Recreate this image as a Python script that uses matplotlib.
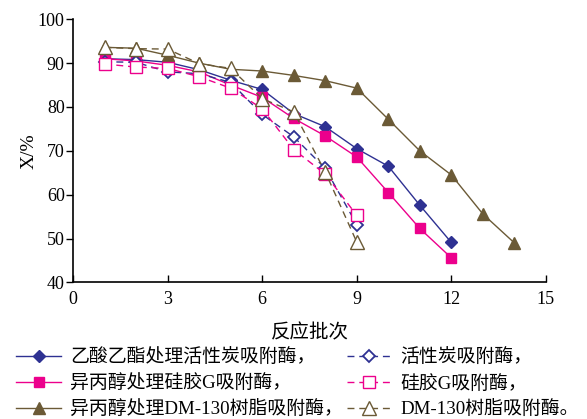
import matplotlib
matplotlib.use("Agg")
import matplotlib.pyplot as plt

plt.rcParams['font.family'] = ['Liberation Serif', 'Noto Sans CJK SC']
plt.rcParams['axes.unicode_minus'] = False

# data
x_long = list(range(1, 13))
x_dm = list(range(1, 15))
x_short = list(range(1, 10))

ea_carbon = [91.0, 90.8, 90.2, 88.5, 86.1, 84.0, 78.5, 75.5, 70.5, 66.5, 57.6, 49.1]
ipa_silica = [91.0, 90.5, 89.5, 88.0, 85.0, 82.2, 77.4, 73.4, 68.6, 60.5, 52.3, 45.6]
ipa_dm130 = [93.6, 93.4, 91.8, 90.0, 88.6, 88.2, 87.2, 86.0, 84.3, 77.2, 70.0, 64.5, 55.6, 49.0]
carbon = [90.3, 90.2, 88.0, 87.6, 85.6, 78.3, 73.2, 66.0, 53.2]
silica = [89.8, 89.1, 88.8, 86.9, 84.3, 79.6, 70.3, 64.7, 55.3]
dm130 = [93.6, 93.3, 93.2, 89.9, 88.8, 81.9, 78.9, 65.2, 49.2]

labels = [
    "乙酸乙酯处理活性炭吸附酶，",
    "异丙醇处理硅胶G吸附酶，",
    "异丙醇处理DM-130树脂吸附酶，",
    "活性炭吸附酶，",
    "硅胶G吸附酶，",
    "DM-130树脂吸附酶。",
]

blue = "#2E3192"
pink = "#EC008C"
brown = "#6B5A36"
dash = (0, (5, 3.5))

fig = plt.figure(figsize=(5.87, 4.19), dpi=100)
ax = fig.add_axes([0.1244, 0.326, 0.8056, 0.628])

h1, = ax.plot(x_long, ea_carbon, color=blue, lw=1.0, marker="D", ms=6,
              mfc=blue, mec=blue, label=labels[0])
h2, = ax.plot(x_long, ipa_silica, color=pink, lw=1.0, marker="s", ms=7,
              mfc=pink, mec=pink, label=labels[1])
h3, = ax.plot(x_dm, ipa_dm130, color=brown, lw=1.0, marker="^", ms=8.5,
              mfc=brown, mec=brown, label=labels[2])
h4, = ax.plot(x_short, carbon, color=blue, lw=1.0, ls=dash, marker="D", ms=6.5,
              mfc="white", mec=blue, mew=1.3, label=labels[3])
h5, = ax.plot(x_short, silica, color=pink, lw=1.0, ls=dash, marker="s", ms=8,
              mfc="white", mec=pink, mew=1.0, label=labels[4])
h6, = ax.plot(x_short, dm130, color=brown, lw=1.0, ls=dash, marker="^", ms=10,
              mfc="white", mec=brown, mew=1.0, label=labels[5])

ax.set_xlim(0, 15)
ax.set_ylim(40, 100)
ax.set_xticks([0, 3, 6, 9, 12, 15])
ax.set_yticks([40, 50, 60, 70, 80, 90, 100])
ax.spines['top'].set_visible(False)
ax.spines['right'].set_visible(False)
for s in ax.spines.values():
    s.set_linewidth(1.2)
ax.tick_params(axis='x', direction='in', length=5, width=1, labelsize=13, pad=6)
ax.tick_params(axis='y', direction='out', length=5, width=1, labelsize=13, pad=1)
ax.set_xlabel("反应批次", fontsize=14, labelpad=12)
ax.set_ylabel("X/%", fontsize=14, labelpad=0)

fig.legend(handles=[h1, h2, h3, h4, h5, h6], ncol=2, loc="lower left",
           bbox_to_anchor=(0.005, -0.03), frameon=False, fontsize=13.6,
           handlelength=2.4, handletextpad=0.45, columnspacing=0.2,
           labelspacing=0.4, borderpad=0.2)

fig.savefig("out.png", dpi=100)
